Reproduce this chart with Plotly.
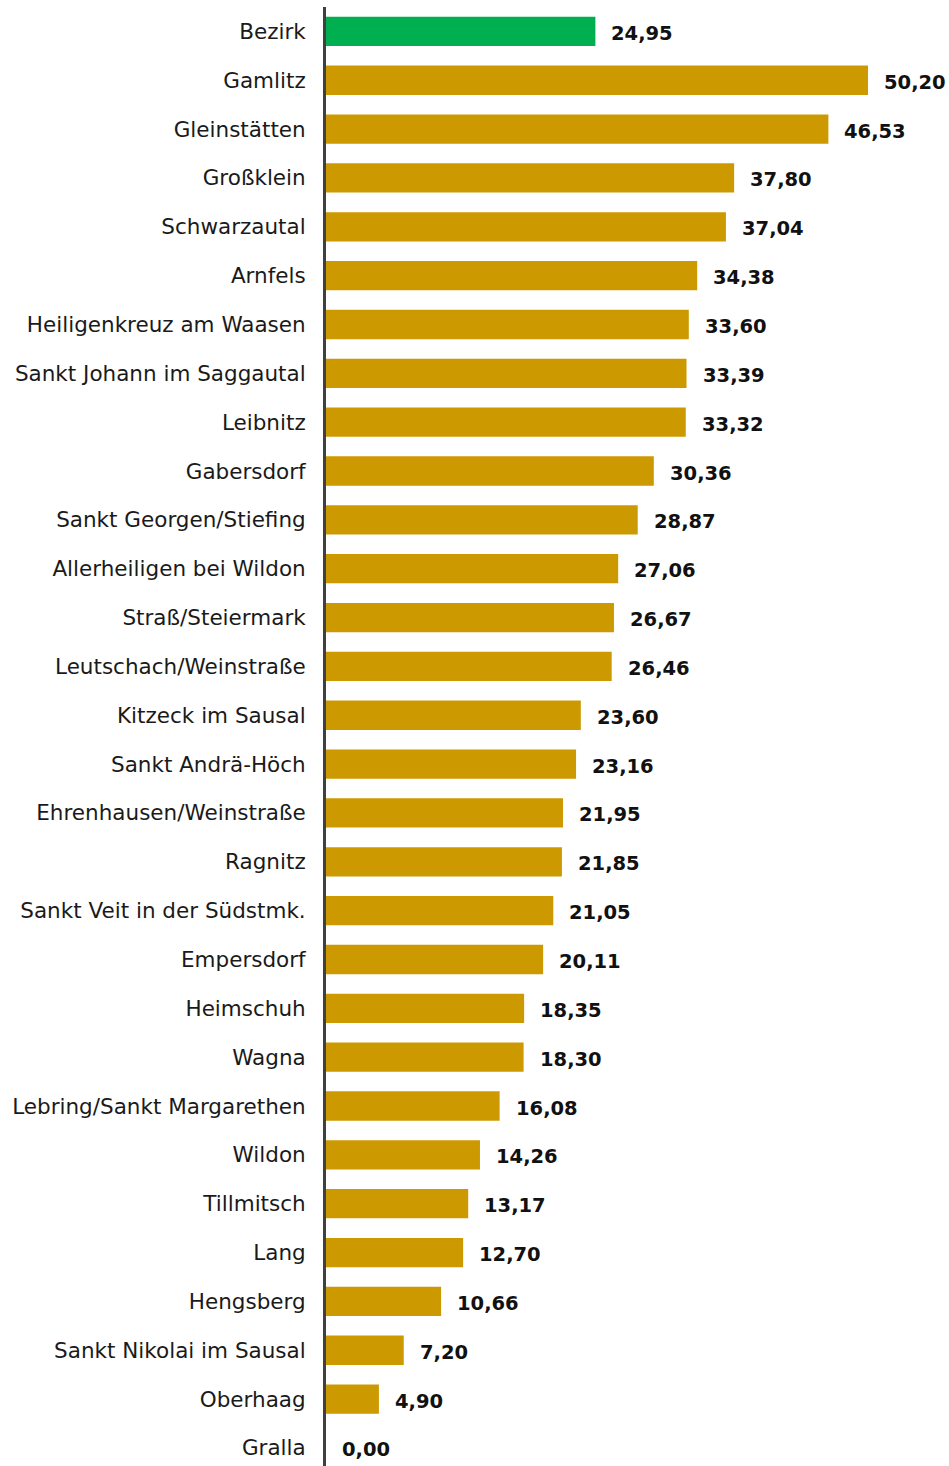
import plotly.graph_objects as go

# Municipalities of the district, in display order (district total first)
gemeinden = [
    "Bezirk", "Gamlitz", "Gleinstätten", "Großklein", "Schwarzautal", "Arnfels",
    "Heiligenkreuz am Waasen", "Sankt Johann im Saggautal", "Leibnitz", "Gabersdorf",
    "Sankt Georgen/Stiefing", "Allerheiligen bei Wildon", "Straß/Steiermark",
    "Leutschach/Weinstraße", "Kitzeck im Sausal", "Sankt Andrä-Höch",
    "Ehrenhausen/Weinstraße", "Ragnitz", "Sankt Veit in der Südstmk.", "Empersdorf",
    "Heimschuh", "Wagna", "Lebring/Sankt Margarethen", "Wildon", "Tillmitsch",
    "Lang", "Hengsberg", "Sankt Nikolai im Sausal", "Oberhaag", "Gralla",
]

werte = [
    24.95, 50.20, 46.53, 37.80, 37.04, 34.38,
    33.60, 33.39, 33.32, 30.36,
    28.87, 27.06, 26.67,
    26.46, 23.60, 23.16,
    21.95, 21.85, 21.05, 20.11,
    18.35, 18.30, 16.08, 14.26, 13.17,
    12.70, 10.66, 7.20, 4.90, 0.00,
]

FARBE_BEZIRK = "#00B050"
FARBE_GEMEINDE = "#CC9900"
farben = [FARBE_BEZIRK if g == "Bezirk" else FARBE_GEMEINDE for g in gemeinden]

LABEL_FONT = "DejaVu Sans"


def fmt(v):
    return f"{v:.2f}".replace(".", ",")


fig = go.Figure(
    go.Bar(
        x=werte,
        y=gemeinden,
        orientation="h",
        marker=dict(color=farben, line=dict(width=0)),
        width=0.6,
        hoverinfo="skip",
    )
)

# value labels to the right of each bar
for g, v in zip(gemeinden, werte):
    fig.add_annotation(
        x=v, y=g, text=fmt(v), showarrow=False,
        xanchor="left", yanchor="middle", xshift=14, yshift=-2,
        font=dict(family=LABEL_FONT, size=19.5, color="#111111", weight="bold"),
    )

fig.update_layout(
    width=949,
    height=1466,
    margin=dict(l=326, r=0, t=7, b=0),
    paper_bgcolor="white",
    plot_bgcolor="white",
    showlegend=False,
    xaxis=dict(
        range=[0, 57.7],
        visible=False,
        showgrid=False,
        zeroline=False,
    ),
    yaxis=dict(
        type="category",
        categoryorder="array",
        categoryarray=gemeinden,
        range=[29.37, -0.5],
        showgrid=False,
        zeroline=False,
        showline=True,
        linecolor="#404040",
        linewidth=3,
        ticks="",
        ticklabelstandoff=13,
        tickfont=dict(family=LABEL_FONT, size=21.5, color="#1a1a1a"),
    ),
)

fig.write_html("out.html")
